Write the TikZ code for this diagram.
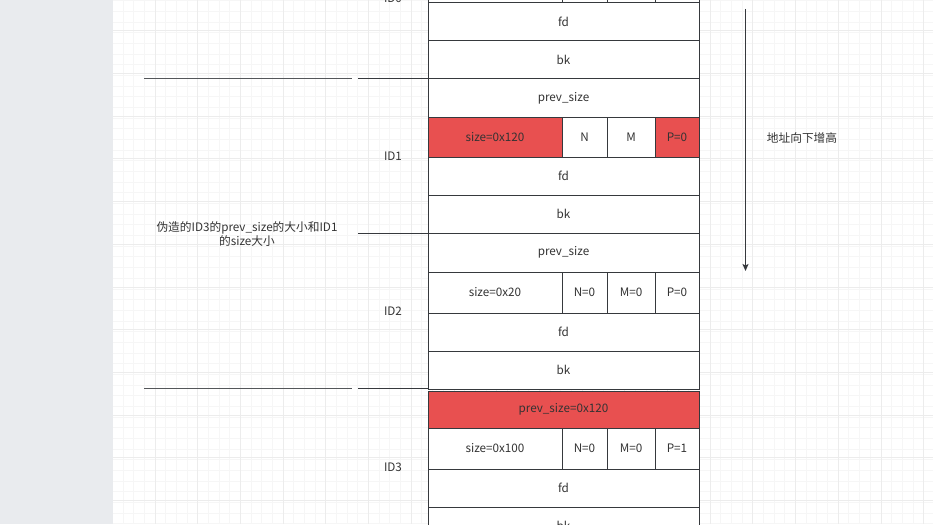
\documentclass[tikz,border=0pt]{standalone}
\usepackage{fontspec}
\setmainfont{Noto Sans CJK SC}
\usetikzlibrary{arrows.meta,positioning}
\definecolor{chunkred}{RGB}{232,80,80}
\definecolor{edgegray}{RGB}{54,57,61}
\definecolor{txtgray}{RGB}{51,51,51}
\definecolor{sidegray}{RGB}{233,235,238}
\definecolor{gridminor}{RGB}{246,246,246}
\definecolor{gridmajor}{RGB}{236,236,236}

\tikzset{
  cell/.style={draw=edgegray, line width=1pt, fill=white, inner sep=0pt,
    text=txtgray, minimum width=271, minimum height=38},
  redcell/.style={cell, fill=chunkred},
  sizecell/.style={minimum width=134},
  ncell/.style={minimum width=45},
  mcell/.style={minimum width=48},
  pcell/.style={minimum width=44},
  txt/.style={text=txtgray, inner sep=0pt},
  cutline/.style={draw=edgegray!85, line width=0.9pt},
}

\begin{document}
\begin{tikzpicture}[x=1pt, y=-1pt, font=\fontsize{11.7}{14}\selectfont]
    \useasboundingbox (0,0) rectangle (933,524);
    \clip (0,0) rectangle (933,524);

    % background grid
    \foreach \gx in {112.3,122.975,...,934}
        \draw[gridminor, line width=0.8pt] (\gx,0) -- (\gx,524);
    \foreach \gy in {0.675,11.35,...,525}
        \draw[gridminor, line width=0.8pt] (112,\gy) -- (933,\gy);
    \foreach \gx in {112.3,155,...,934}
        \draw[gridmajor, line width=0.8pt] (\gx,0) -- (\gx,524);
    \foreach \gy in {30.7,73.4,...,525}
        \draw[gridmajor, line width=0.8pt] (112,\gy) -- (933,\gy);
    \fill[sidegray] (0,0) rectangle (112.5,524);

    % ID0
    \node[cell, sizecell, minimum height=40] (szA) at (495,-17) {};
    \node[cell, ncell, minimum height=40] (nA) at (584.5,-17) {};
    \node[cell, mcell, minimum height=40] (mA) at (631,-17) {};
    \node[cell, pcell, minimum height=40] (pA) at (677,-17) {};
    \node[cell] (fdA) at (563.5,22) {fd};
    \node[cell] (bkA) at (563.5,60) {bk};
    \node[txt] (idA) at (393,-1.5) {ID0};

    % ID1
    \node[cell] (psB) at (563.5,98) {prev\_size};
    \node[redcell, sizecell, minimum height=40] (szB) at (495,137) {size=0x120};
    \node[cell, ncell, minimum height=40] (nB) at (584.5,137) {N};
    \node[cell, mcell, minimum height=40] (mB) at (631,137) {M};
    \node[redcell, pcell, minimum height=40] (pB) at (677,137) {P=0};
    \node[cell] (fdB) at (563.5,176) {fd};
    \node[cell] (bkB) at (563.5,214) {bk};
    \node[txt] (idB) at (393,156) {ID1};

    % ID2
    \node[cell, minimum height=39] (psC) at (563.5,252.5) {prev\_size};
    \node[cell, sizecell, minimum height=41] (szC) at (495,292.5) {size=0x20};
    \node[cell, ncell, minimum height=41] (nC) at (584.5,292.5) {N=0};
    \node[cell, mcell, minimum height=41] (mC) at (631,292.5) {M=0};
    \node[cell, pcell, minimum height=41] (pC) at (677,292.5) {P=0};
    \node[cell] (fdC) at (563.5,332) {fd};
    \node[cell] (bkC) at (563.5,370) {bk};
    \node[txt] (idC) at (393,311) {ID2};

    % ID3
    \node[redcell, minimum height=37] (psD) at (563.5,409.5) {prev\_size=0x120};
    \node[cell, sizecell, minimum height=41] (szD) at (495,448.5) {size=0x100};
    \node[cell, ncell, minimum height=41] (nD) at (584.5,448.5) {N=0};
    \node[cell, mcell, minimum height=41] (mD) at (631,448.5) {M=0};
    \node[cell, pcell, minimum height=41] (pD) at (677,448.5) {P=1};
    \node[cell] (fdD) at (563.5,488) {fd};
    \node[cell] (bkD) at (563.5,526) {bk};
    \node[txt] (idD) at (393,467) {ID3};

    % chunk borders on the left
    \coordinate (cutA) at (144,78.5);
    \coordinate (cutAend) at (352,78.5);
    \coordinate (cutB) at (144,388.5);
    \coordinate (cutBend) at (352,388.5);
    \coordinate (tickA) at (358,78.5);
    \coordinate (tickB) at (358,233.5);
    \coordinate (tickC) at (358,388.5);
    \draw[cutline] (cutA) -- (cutAend);
    \draw[cutline] (cutB) -- (cutBend);
    \draw[cutline, draw=edgegray, line width=1.1pt] (tickA) -- (tickA -| psB.west);
    \draw[cutline, draw=edgegray, line width=1.1pt] (tickB) -- (tickB -| psC.west);
    \draw[cutline, draw=edgegray, line width=1.1pt] (tickC) -- (tickC -| psD.west);

    \node[txt, align=center] (fakenote) at (247,234.5)
        {伪造的ID3的prev\_size的大小和ID1\\的size大小};

    % address direction
    \coordinate (addrtop) at (745.5,9);
    \coordinate (addrbot) at (745.5,271);
    \draw[edgegray, line width=1pt, -{Stealth[length=7pt, width=6pt, inset=1.5pt]}]
        (addrtop) -- (addrbot);
    \node[txt] (addrnote) at (802,138) {地址向下增高};
\end{tikzpicture}
\end{document}
